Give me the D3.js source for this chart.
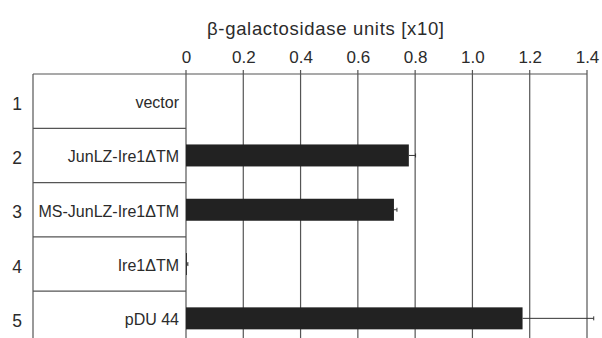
<!DOCTYPE html>
<html>
<head>
<meta charset="utf-8">
<script src="https://cdn.jsdelivr.net/npm/d3@7"></script>
<style>
  body { margin: 0; background: #fff; }
  svg { display: block; font-family: "Liberation Sans", Arial, sans-serif; }
</style>
</head>
<body>
<div id="chart"></div>
<script>
// Data
const rowNumbers = ["1", "2", "3", "4", "5"];
const constructs = ["vector", "JunLZ-Ire1\u0394TM", "MS-JunLZ-Ire1\u0394TM", "Ire1\u0394TM", "pDU 44"];
const units = [0, 0.778, 0.726, 0.003, 1.175];
const errors = [0, 0.02, 0.007, 0, 0.245];
const tickValues = [0, 0.2, 0.4, 0.6, 0.8, 1.0, 1.2, 1.4];

const width = 602, height = 338;
// Layout (pixels)
const boxLeft = 33;
const plotLeft = 186, plotRight = 587;
const plotTop = 74;
const rowHeight = 54.3;

const ink = '#222';
const textColor = '#2b2b2b';
const lineColor = '#555';

const svg = d3.select('#chart')
    .append('svg')
    .attr('width', width)
    .attr('height', height);

const x = d3.scaleLinear()
    .domain([0, 1.4])
    .range([plotLeft, plotRight]);

const y = d3.scaleBand()
    .domain(constructs)
    .range([plotTop, plotTop + rowHeight * constructs.length]);

// Title
svg.append('text')
    .attr('x', 207)
    .attr('y', 35)
    .attr('font-size', 18.5)
    .attr('fill', textColor)
    .attr('textLength', 237)
    .attr('lengthAdjust', 'spacing')
    .text('\u03b2-galactosidase units [x10]');

// Vertical gridlines
svg.append('g')
    .selectAll('line')
    .data(tickValues)
    .join('line')
    .attr('x1', d => x(d))
    .attr('x2', d => x(d))
    .attr('y1', plotTop - 4)
    .attr('y2', height + 10)
    .attr('stroke', lineColor)
    .attr('stroke-width', 1.2);

// Top axis with tick labels
const axis = svg.append('g')
    .attr('transform', `translate(0, ${plotTop})`)
    .call(d3.axisTop(x)
        .tickValues(tickValues)
        .tickFormat(d => d === 0 ? '0' : d3.format('.1f')(d))
        .tickSize(0)
        .tickPadding(11));
axis.select('.domain').remove();
axis.selectAll('text')
    .attr('font-size', 17)
    .attr('fill', textColor)
    .attr('font-family', '"Liberation Sans", Arial, sans-serif');

// Top axis line spanning label box and plot
svg.append('line')
    .attr('x1', boxLeft)
    .attr('x2', plotRight)
    .attr('y1', plotTop)
    .attr('y2', plotTop)
    .attr('stroke', lineColor)
    .attr('stroke-width', 1.2);

// Left label box
svg.append('line')
    .attr('x1', boxLeft)
    .attr('x2', boxLeft)
    .attr('y1', plotTop)
    .attr('y2', height + 10)
    .attr('stroke', lineColor)
    .attr('stroke-width', 1.2);

svg.append('g')
    .selectAll('line')
    .data(constructs.slice(1))
    .join('line')
    .attr('x1', boxLeft)
    .attr('x2', plotLeft)
    .attr('y1', d => y(d))
    .attr('y2', d => y(d))
    .attr('stroke', lineColor)
    .attr('stroke-width', 1.2);

// Row numbers and construct labels
svg.append('g')
    .selectAll('text')
    .data(constructs)
    .join('text')
    .attr('x', 17)
    .attr('y', d => y(d) + y.bandwidth() / 2 + 8.5)
    .attr('text-anchor', 'middle')
    .attr('font-size', 17.5)
    .attr('fill', textColor)
    .text((d, i) => rowNumbers[i]);

svg.append('g')
    .selectAll('text')
    .data(constructs)
    .join('text')
    .attr('x', 179)
    .attr('y', d => y(d) + y.bandwidth() / 2 + 7)
    .attr('text-anchor', 'end')
    .attr('font-size', 16)
    .attr('fill', textColor)
    .text(d => d);

// Bars
const barH = 22;
svg.append('g')
    .selectAll('rect')
    .data(constructs)
    .join('rect')
    .attr('x', x(0))
    .attr('y', d => y(d) + y.bandwidth() / 2 - barH / 2)
    .attr('width', (d, i) => x(units[i]) - x(0))
    .attr('height', barH)
    .attr('fill', ink);

// Error bars (one-sided, to the right)
const err = svg.append('g')
    .selectAll('g')
    .data(constructs.filter((d, i) => errors[i] > 0 || units[i] > 0))
    .join('g');
err.append('line')
    .attr('x1', d => x(units[constructs.indexOf(d)]))
    .attr('x2', d => { const i = constructs.indexOf(d); return x(units[i] + errors[i]) + 1; })
    .attr('y1', d => y(d) + y.bandwidth() / 2)
    .attr('y2', d => y(d) + y.bandwidth() / 2)
    .attr('stroke', '#333')
    .attr('stroke-width', 1);
err.append('line')
    .attr('x1', d => { const i = constructs.indexOf(d); return x(units[i] + errors[i]) + 1; })
    .attr('x2', d => { const i = constructs.indexOf(d); return x(units[i] + errors[i]) + 1; })
    .attr('y1', d => y(d) + y.bandwidth() / 2 - 2)
    .attr('y2', d => y(d) + y.bandwidth() / 2 + 2)
    .attr('stroke', '#333')
    .attr('stroke-width', 1);
</script>
</body>
</html>
